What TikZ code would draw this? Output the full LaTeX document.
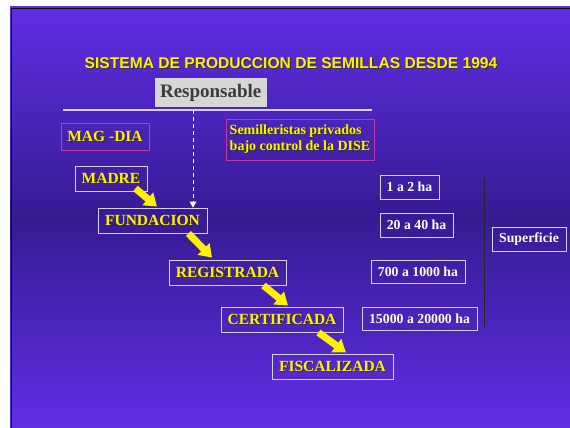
\documentclass[tikz,border=0pt]{standalone}
\usepackage{fontspec}
\setmainfont{Liberation Serif}
\newfontfamily\headfont{Liberation Sans}
\usepackage{tikz}
\usetikzlibrary{arrows.meta,positioning}
\usepackage{xcolor}
\definecolor{slidetop}{RGB}{96,46,228}
\definecolor{slidemid}{RGB}{54,27,148}
\definecolor{boxline}{RGB}{216,208,240}
\definecolor{magline}{RGB}{196,56,168}
\definecolor{respgray}{RGB}{214,214,214}
\definecolor{resptext}{RGB}{60,60,60}
\newcommand{\shtxt}[1]{\makebox[0pt][l]{\kern1.1pt\raisebox{-1.1pt}{\color{black!80}#1}}#1}
\tikzstyle{stage} = [rectangle, draw=boxline, line width=0.9pt, text=yellow, font=\bfseries\fontsize{15.5}{17}\selectfont, minimum height=25pt, inner sep=0pt]
\tikzstyle{area} = [rectangle, draw=boxline, line width=0.9pt, text=white, font=\bfseries\fontsize{13.8}{16}\selectfont, minimum height=24pt, inner sep=0pt]
\tikzstyle{actor} = [rectangle, draw=magline, line width=0.9pt, text=yellow, font=\bfseries\fontsize{14}{16}\selectfont, inner sep=0pt]
\tikzstyle{fatarrow} = [line width=7pt, yellow, -{Triangle[width=16pt,length=12pt]}]
\tikzstyle{guide} = [white, line width=0.9pt, dash pattern=on 4pt off 3pt, -{Triangle[width=7pt,length=6pt]}]

\begin{document}
\begin{tikzpicture}[x=1pt, y=-1pt]
\useasboundingbox (0,0) rectangle (570,428);
% slide
\fill[white] (0,0) rectangle (570,428);
\shade[top color=slidetop, bottom color=slidetop, middle color=slidemid] (10,7) rectangle (570,428);
\draw[black, line width=1.3pt] (11.8,428) -- (11.8,8.8) -- (570,8.8);

% Title
\node[font=\headfont\bfseries\fontsize{15.6}{18}\selectfont, text=yellow, anchor=base] (title) at (291,68) {\shtxt{SISTEMA DE PRODUCCION DE SEMILLAS DESDE 1994}};
\node[fill=respgray, text=resptext, font=\bfseries\fontsize{19}{20}\selectfont, minimum width=111.5pt, minimum height=29pt, inner sep=0pt] (resp) at (210.75,92.5) {Responsable};
\coordinate (rulel) at (62.5,110);
\coordinate (ruler) at (371.6,110);
\coordinate (rulemark) at (193,110);
\draw[boxline, line width=1.2pt] (rulel) -- (ruler);

% Responsables
\node[actor, font=\bfseries\fontsize{15.5}{17}\selectfont, minimum width=88pt, minimum height=27pt] (mag) at (105,136.5) {\shtxt{MAG -DIA}};
\node[actor, minimum width=148pt, minimum height=41pt, align=left] (priv) at (300,139.5) {\shtxt{Semilleristas privados}\\\shtxt{bajo control de la DISE}};

% Categorias
\node[stage, minimum width=72pt, minimum height=25.5pt] (madre) at (111,178.75) {\shtxt{MADRE}};
\node[stage, minimum width=109pt] (fundacion) at (152.5,220.5) {\shtxt{FUNDACION}};
\node[stage, minimum width=117pt] (registrada) at (227.5,272.5) {\shtxt{REGISTRADA}};
\node[stage, minimum width=122pt] (certificada) at (282,319.5) {\shtxt{CERTIFICADA}};
\node[stage, minimum width=121pt] (fiscalizada) at (332.5,366.5) {\shtxt{FISCALIZADA}};

% Superficie
\node[area, minimum width=59pt] (ha1) at (409.5,187) {1 a 2 ha};
\node[area, minimum width=73pt] (ha2) at (416.5,225) {20 a 40 ha};
\node[area, minimum width=94pt, minimum height=23pt] (ha3) at (418,271.5) {700 a 1000 ha};
\node[area, minimum width=115pt, minimum height=23pt] (ha4) at (419.5,318.5) {15000 a 20000 ha};
\node[area, minimum width=74pt] (sup) at (529,239) {Superficie};
\draw[black!85, line width=1pt] (484,177) -- (484,327);

\draw[guide] (rulemark) -- (rulemark |- fundacion.north);
\draw[fatarrow] ([shift={(-12pt,3.5pt)}]madre.south east) -- ([shift={(4.5pt,1pt)}]fundacion.north);
\draw[fatarrow] ([shift={(-19pt,0pt)}]fundacion.south east) -- ([shift={(-15.5pt,2pt)}]registrada.north);
\draw[fatarrow] ([shift={(-23pt,0pt)}]registrada.south east) -- ([shift={(6pt,1pt)}]certificada.north);
\draw[fatarrow] ([shift={(-25pt,0pt)}]certificada.south east) -- ([shift={(13.5pt,1pt)}]fiscalizada.north);
\end{tikzpicture}
\end{document}
